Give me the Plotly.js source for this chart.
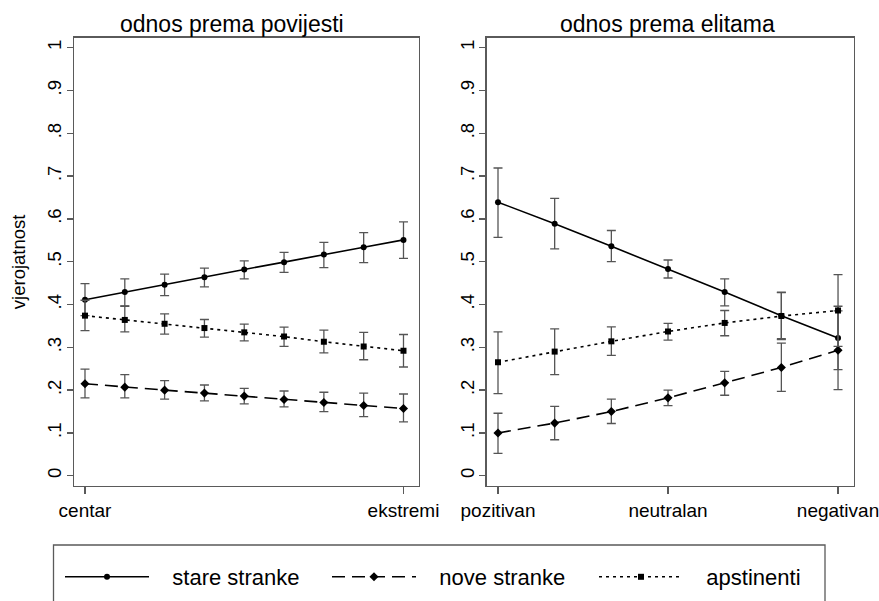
<!DOCTYPE html>
<html>
<head>
<meta charset="utf-8">
<script src="https://cdn.plot.ly/plotly-3.0.1.min.js"></script>
<style>
  html, body { margin: 0; padding: 0; background: #fff; }
  #chart { width: 879px; height: 601px; }
</style>
</head>
<body>
<div id="chart"></div>
<script>
// ---------- data ----------
const seriesNames = ["stare stranke", "nove stranke", "apstinenti"];
const panelTitles = ["odnos prema povijesti", "odnos prema elitama"];
const yLabel = "vjerojatnost";

// left panel: odnos prema povijesti (9 points, centar -> ekstremi)
const leftX = [0, 1, 2, 3, 4, 5, 6, 7, 8];
const leftTickVals = [0, 8];
const leftTickText = ["centar", "ekstremi"];
const leftStare   = [0.411, 0.429, 0.446, 0.464, 0.482, 0.499, 0.517, 0.534, 0.551];
const leftStareHi = [0.449, 0.460, 0.471, 0.485, 0.502, 0.522, 0.545, 0.568, 0.593];
const leftStareLo = [0.374, 0.397, 0.421, 0.441, 0.460, 0.475, 0.486, 0.498, 0.508];
const leftNove    = [0.215, 0.207, 0.200, 0.193, 0.186, 0.178, 0.171, 0.164, 0.157];
const leftNoveHi  = [0.249, 0.236, 0.222, 0.212, 0.204, 0.198, 0.195, 0.193, 0.191];
const leftNoveLo  = [0.182, 0.182, 0.179, 0.175, 0.168, 0.161, 0.150, 0.138, 0.126];
const leftApst    = [0.374, 0.364, 0.355, 0.345, 0.335, 0.325, 0.313, 0.302, 0.292];
const leftApstHi  = [0.410, 0.396, 0.378, 0.365, 0.354, 0.347, 0.340, 0.335, 0.330];
const leftApstLo  = [0.339, 0.336, 0.331, 0.324, 0.315, 0.302, 0.287, 0.271, 0.254];

// right panel: odnos prema elitama (7 points, pozitivan -> negativan)
const rightX = [0, 1, 2, 3, 4, 5, 6];
const rightTickVals = [0, 3, 6];
const rightTickText = ["pozitivan", "neutralan", "negativan"];
const rightStare   = [0.639, 0.589, 0.536, 0.483, 0.429, 0.374, 0.322];
const rightStareHi = [0.719, 0.648, 0.573, 0.504, 0.460, 0.429, 0.396];
const rightStareLo = [0.557, 0.530, 0.500, 0.462, 0.397, 0.320, 0.248];
const rightNove    = [0.100, 0.123, 0.150, 0.182, 0.217, 0.253, 0.293];
const rightNoveHi  = [0.146, 0.162, 0.179, 0.200, 0.244, 0.310, 0.385];
const rightNoveLo  = [0.052, 0.084, 0.122, 0.164, 0.188, 0.197, 0.201];
const rightApst    = [0.265, 0.290, 0.314, 0.337, 0.357, 0.373, 0.386];
const rightApstHi  = [0.336, 0.343, 0.348, 0.356, 0.386, 0.428, 0.470];
const rightApstLo  = [0.192, 0.236, 0.281, 0.317, 0.327, 0.318, 0.302];

const yTickVals = [0, 0.1, 0.2, 0.3, 0.4, 0.5, 0.6, 0.7, 0.8, 0.9, 1];
const yTickText = ["0", ".1", ".2", ".3", ".4", ".5", ".6", ".7", ".8", ".9", "1"];

// ---------- styling ----------
const W = 879, H = 601;
const FONT = "Liberation Sans, Arial, sans-serif";
const frameCol = "#5a5a5a";
const errCol = "#555555";
const styles = [
  { dash: "solid",     symbol: "circle",  size: 6 },
  { dash: "13px,7px",  symbol: "diamond", size: 7 },
  { dash: "3px,4px",   symbol: "square",  size: 6 }
];
const legendPad = "\u00a0\u00a0\u00a0";

function mk(x, y, hi, lo, idx, xa, ya, show) {
  const st = styles[idx];
  return {
    type: "scatter", mode: "lines+markers",
    x: x, y: y, xaxis: xa, yaxis: ya,
    name: legendPad + seriesNames[idx], legendgroup: "g" + idx, showlegend: show,
    line: { color: "#000", width: 1.6, dash: st.dash },
    marker: { color: "#000", symbol: st.symbol, size: st.size },
    error_y: {
      type: "data", symmetric: false,
      array: hi.map((h, i) => h - y[i]),
      arrayminus: lo.map((l, i) => y[i] - l),
      color: errCol, thickness: 1.3, width: 4.5
    },
    hoverinfo: "x+y"
  };
}

const traces = [
  mk(leftX, leftStare, leftStareHi, leftStareLo, 0, "x", "y", true),
  mk(leftX, leftNove, leftNoveHi, leftNoveLo, 1, "x", "y", true),
  mk(leftX, leftApst, leftApstHi, leftApstLo, 2, "x", "y", true),
  mk(rightX, rightStare, rightStareHi, rightStareLo, 0, "x2", "y2", false),
  mk(rightX, rightNove, rightNoveHi, rightNoveLo, 1, "x2", "y2", false),
  mk(rightX, rightApst, rightApstHi, rightApstLo, 2, "x2", "y2", false)
];

const px = v => v / W;
const py = v => 1 - v / H;

const commonX = {
  showgrid: false, zeroline: false, showline: true, mirror: true,
  linecolor: frameCol, linewidth: 1.3,
  ticks: "outside", ticklen: 7, tickcolor: frameCol, tickwidth: 1.3,
  tickfont: { family: FONT, size: 19, color: "#000" }, fixedrange: true,
  automargin: false, ticklabeloverflow: "allow"
};
const commonY = Object.assign({}, commonX, {
  range: [-0.024, 1.0234], tickmode: "array",
  tickvals: yTickVals, ticktext: yTickText, tickangle: -90,
  ticklen: 6, ticklabelstandoff: -2,
  tickfont: { family: FONT, size: 18.5, color: "#000" }
});

const layout = {
  width: W, height: H,
  margin: { l: 0, r: 0, t: 0, b: 0, autoexpand: false },
  paper_bgcolor: "#fff", plot_bgcolor: "#fff",
  font: { family: FONT, color: "#000" },
  xaxis: Object.assign({}, commonX, {
    domain: [px(74), px(418.5)], range: [-0.276, 8.377],
    tickmode: "array", tickvals: leftTickVals, ticktext: leftTickText, anchor: "y"
  }),
  yaxis: Object.assign({}, commonY, {
    domain: [py(486), py(37.7)], anchor: "x",
    title: { text: yLabel, font: { family: FONT, size: 18.5, color: "#000" }, standoff: 13 }
  }),
  xaxis2: Object.assign({}, commonX, {
    domain: [px(486.5), px(853.5)], range: [-0.203, 6.273],
    tickmode: "array", tickvals: rightTickVals, ticktext: rightTickText, anchor: "y2"
  }),
  yaxis2: Object.assign({}, commonY, {
    domain: [py(486), py(37.7)], anchor: "x2"
  }),
  annotations: [
    { text: panelTitles[0], xref: "paper", yref: "paper", x: px(231.5), y: py(24),
      xanchor: "center", yanchor: "middle", showarrow: false,
      font: { family: FONT, size: 23, color: "#000" } },
    { text: panelTitles[1], xref: "paper", yref: "paper", x: px(667), y: py(24),
      xanchor: "center", yanchor: "middle", showarrow: false,
      font: { family: FONT, size: 23, color: "#000" } }
  ],
  shapes: [
    { type: "rect", xref: "paper", yref: "paper",
      x0: px(53.5), x1: px(825), y0: py(640), y1: py(545),
      line: { color: frameCol, width: 1.3 }, fillcolor: "rgba(0,0,0,0)" }
  ],
  showlegend: true,
  legend: {
    orientation: "h", x: px(60), y: py(577), xanchor: "left", yanchor: "middle",
    bgcolor: "rgba(0,0,0,0)", borderwidth: 0,
    itemwidth: 84, entrywidth: 168, entrywidthmode: "pixels",
    font: { family: FONT, size: 22, color: "#000" },
    itemclick: false, itemdoubleclick: false
  }
};

Plotly.newPlot("chart", traces, layout, { displayModeBar: false, staticPlot: true });
</script>
</body>
</html>
